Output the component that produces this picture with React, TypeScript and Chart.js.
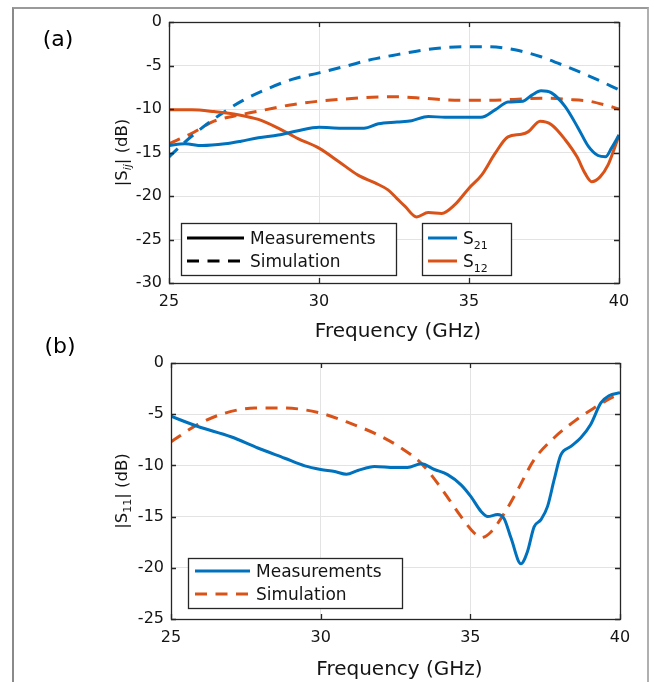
import React, { useEffect, useRef } from 'react';
import { Chart, registerables } from 'chart.js';

Chart.register(...registerables);

// ---------- data: panel (a) |Sij| ----------
const s21MeasFreq = [25, 25.53, 26.1, 26.87, 27.4, 27.98, 28.64, 29.3, 30, 30.75, 31.5, 31.98, 32.6, 33.09, 33.64, 34.2, 34.75, 35.4, 35.87, 36.3, 36.8, 37.1, 37.4, 37.75, 38.2, 38.64, 38.98, 39.3, 39.55, 39.75, 40];
const s21MeasDb = [-14.2, -14.0, -14.2, -14.0, -13.7, -13.3, -13.0, -12.5, -12.1, -12.2, -12.2, -11.7, -11.5, -11.35, -10.85, -10.96, -10.96, -10.96, -10.1, -9.2, -9.1, -8.4, -7.9, -8.15, -9.7, -12.2, -14.3, -15.35, -15.5, -14.5, -13.0];

const s12MeasFreq = [25, 25.76, 26.5, 27.3, 27.98, 28.64, 29.3, 30, 30.64, 31.3, 31.87, 32.3, 32.6, 32.87, 33.25, 33.64, 34.09, 34.53, 35.0, 35.42, 35.87, 36.3, 36.75, 36.98, 37.37, 37.75, 38.2, 38.6, 38.87, 39.09, 39.37, 39.64, 39.87, 40];
const s12MeasDb = [-10.1, -10.1, -10.3, -10.65, -11.2, -12.2, -13.4, -14.5, -16.0, -17.6, -18.5, -19.3, -20.3, -21.2, -22.4, -21.9, -22.0, -21.0, -19.1, -17.6, -15.1, -13.2, -12.9, -12.6, -11.4, -11.8, -13.5, -15.5, -17.4, -18.35, -17.8, -16.4, -14.3, -13.0];

const s21SimFreq = [25, 25.4, 25.87, 26.64, 27.42, 28.2, 29.1, 30, 30.87, 31.76, 32.6, 33.64, 34.75, 35.6, 36.53, 37.4, 38.3, 39.2, 40];
const s21SimDb = [-15.5, -14.2, -12.8, -10.8, -9.1, -7.8, -6.6, -5.85, -5.1, -4.3, -3.75, -3.15, -2.85, -2.85, -3.2, -4.0, -5.2, -6.5, -7.8];

const s12SimFreq = [25, 25.76, 26.5, 27.4, 28.2, 29.1, 30, 30.87, 31.76, 32.6, 33.6, 34.75, 35.6, 36.5, 37.4, 38.3, 39, 39.6, 40];
const s12SimDb = [-14.0, -12.8, -11.4, -10.65, -10.1, -9.5, -9.1, -8.85, -8.65, -8.6, -8.8, -9.0, -9.0, -8.9, -8.75, -8.9, -9.1, -9.6, -10.0];

// ---------- data: panel (b) |S11| ----------
const s11MeasFreq = [25, 25.9, 27.0, 27.9, 28.8, 29.47, 30, 30.47, 30.86, 31.24, 31.8, 32.47, 32.9, 33.36, 33.8, 34.24, 34.69, 35.02, 35.36, 35.58, 35.91, 36.13, 36.36, 36.69, 36.91, 37.13, 37.36, 37.58, 37.8, 38.02, 38.36, 38.69, 39.02, 39.36, 39.63, 40];
const s11MeasDb = [-5.2, -6.2, -7.2, -8.3, -9.3, -10.05, -10.4, -10.6, -10.86, -10.5, -10.1, -10.2, -10.2, -9.85, -10.4, -10.9, -11.9, -13.05, -14.5, -15.0, -14.8, -15.2, -17.1, -19.6, -18.4, -16.0, -15.3, -14.0, -11.4, -9.0, -8.15, -7.3, -6.0, -3.9, -3.2, -2.9];

const s11SimFreq = [25, 25.9, 26.8, 27.8, 28.8, 30, 31.0, 31.9, 32.69, 33.36, 34.02, 34.69, 35.13, 35.36, 35.69, 36.13, 36.58, 37.13, 37.8, 38.47, 39.13, 39.58, 40];
const s11SimDb = [-7.7, -6.0, -4.9, -4.4, -4.4, -4.9, -5.9, -7.0, -8.3, -9.8, -12.2, -15.0, -16.6, -17.05, -16.5, -14.7, -12.4, -9.45, -7.3, -5.7, -4.4, -3.6, -3.0];

// ---------- axis ranges / tick steps ----------
const freqRange = [25, 40];
const freqStep = 5;
const aRange = [-30, 0];
const bRange = [-25, 0];
const dbStep = 5;

// ---------- styles ----------
const FAMILY = '"DejaVu Sans", "Liberation Sans", sans-serif';
const AXIS = '#262626';
const TEXT = '#141414';
const GRID = '#e3e3e3';
const BLUE = '#0072BD';
const ORANGE = '#D95319';
const DASH = [12, 8.5];
const LW = 3;

type Seg = { t: string; sub?: boolean; it?: boolean };

function segFont(s: Seg, size: number) {
  const sz = s.sub ? Math.round(size * 0.64) : size;
  return `${s.it ? 'italic ' : ''}${sz}px ${FAMILY}`;
}
function richWidth(ctx: CanvasRenderingContext2D, segs: Seg[], size: number) {
  let w = 0;
  for (const s of segs) {
    ctx.font = segFont(s, size);
    w += ctx.measureText(s.t).width;
  }
  return w;
}
function drawRich(ctx: CanvasRenderingContext2D, segs: Seg[], x: number, baseline: number, size: number, align: 'left' | 'center') {
  let cx = align === 'center' ? x - richWidth(ctx, segs, size) / 2 : x;
  ctx.textAlign = 'left';
  ctx.textBaseline = 'alphabetic';
  for (const s of segs) {
    ctx.font = segFont(s, size);
    ctx.fillText(s.t, cx, baseline + (s.sub ? size * 0.28 : 0));
    cx += ctx.measureText(s.t).width;
  }
}

type LegendRow = { y: number; color: string; dash: number[]; label: Seg[] };
type LegendBox = { x: number; y: number; w: number; h: number; lx1: number; lx2: number; tx: number; rows: LegendRow[] };

type Panel = {
  name: string;
  panelLabel: string;
  labelPos: [number, number];
  yTitle: Seg[];
  yTitleX: number;
  xTitleBaseline: number;
  legends: LegendBox[];
};

function makeDecor(p: Panel) {
  return {
    id: 'decor_' + p.name,
    afterDraw(chart: any) {
      const ctx: CanvasRenderingContext2D = chart.ctx;
      const a = chart.chartArea;
      const xs = chart.scales.x;
      const ys = chart.scales.y;
      ctx.save();
      // axes box
      ctx.strokeStyle = AXIS;
      ctx.lineWidth = 1.3;
      ctx.setLineDash([]);
      ctx.strokeRect(a.left + 0.5, a.top + 0.5, a.right - a.left, a.bottom - a.top);
      // inward ticks on all sides
      const TL = 5;
      ctx.beginPath();
      for (const t of xs.ticks) {
        const px = Math.round(xs.getPixelForValue(t.value)) + 0.5;
        ctx.moveTo(px, a.bottom); ctx.lineTo(px, a.bottom - TL);
        ctx.moveTo(px, a.top); ctx.lineTo(px, a.top + TL);
      }
      for (const t of ys.ticks) {
        const py = Math.round(ys.getPixelForValue(t.value)) + 0.5;
        ctx.moveTo(a.left, py); ctx.lineTo(a.left + TL, py);
        ctx.moveTo(a.right, py); ctx.lineTo(a.right - TL, py);
      }
      ctx.stroke();

      // legends
      for (const lg of p.legends) {
        ctx.fillStyle = '#ffffff';
        ctx.fillRect(lg.x, lg.y, lg.w, lg.h);
        ctx.strokeStyle = AXIS;
        ctx.lineWidth = 1.3;
        ctx.setLineDash([]);
        ctx.strokeRect(lg.x + 0.5, lg.y + 0.5, lg.w, lg.h);
        for (const r of lg.rows) {
          ctx.strokeStyle = r.color;
          ctx.lineWidth = LW;
          ctx.setLineDash(r.dash);
          ctx.beginPath();
          ctx.moveTo(lg.lx1, r.y);
          ctx.lineTo(lg.lx2, r.y);
          ctx.stroke();
          ctx.setLineDash([]);
          ctx.fillStyle = TEXT;
          drawRich(ctx, r.label, lg.tx, r.y + 6, 17, 'left');
        }
      }

      ctx.fillStyle = TEXT;
      // x title
      drawRich(ctx, [{ t: 'Frequency (GHz)' }], (a.left + a.right) / 2 + 4, p.xTitleBaseline, 20, 'center');
      // y title (rotated)
      ctx.save();
      ctx.translate(p.yTitleX + 4.5, (a.top + a.bottom) / 2);
      ctx.rotate(-Math.PI / 2);
      drawRich(ctx, p.yTitle, 0, 0, 16.5, 'center');
      ctx.restore();
      // panel label
      ctx.fillStyle = '#000000';
      drawRich(ctx, [{ t: p.panelLabel }], p.labelPos[0], p.labelPos[1], 22, 'center');
      ctx.restore();
    },
  };
}

function pts(f: number[], v: number[]) {
  return f.map((x, i) => ({ x, y: v[i] }));
}

function ds(label: string, f: number[], v: number[], color: string, dashed: boolean) {
  return {
    label,
    data: pts(f, v),
    borderColor: color,
    backgroundColor: color,
    borderWidth: LW,
    borderDash: dashed ? DASH : [],
    pointRadius: 0,
    fill: false,
    cubicInterpolationMode: 'monotone',
    borderCapStyle: 'butt',
    borderJoinStyle: 'round',
  };
}

type Layout = { padTop: number; padBottom: number; padRight: number; yWidth: number; xHeight: number; yRange: number[] };

function buildConfig(datasets: any[], lay: Layout, panel: Panel): any {
  const tickFont = { family: FAMILY, size: 16 };
  return {
    type: 'line',
    data: { datasets },
    options: {
      responsive: false,
      animation: false,
      events: [],
      layout: { padding: { left: 0, right: lay.padRight, top: lay.padTop, bottom: lay.padBottom } },
      plugins: { legend: { display: false }, tooltip: { enabled: false }, title: { display: false } },
      scales: {
        x: {
          type: 'linear',
          min: freqRange[0],
          max: freqRange[1],
          afterFit: (s: any) => { s.height = lay.xHeight; },
          ticks: { stepSize: freqStep, font: tickFont, color: TEXT, padding: 9, maxRotation: 0 },
          grid: { color: GRID, lineWidth: 1, drawTicks: false },
          border: { display: false },
        },
        y: {
          type: 'linear',
          min: lay.yRange[0],
          max: lay.yRange[1],
          afterFit: (s: any) => { s.width = lay.yWidth; },
          ticks: { stepSize: dbStep, font: tickFont, color: TEXT, padding: 7 },
          grid: { color: GRID, lineWidth: 1, drawTicks: false },
          border: { display: false },
        },
      },
    },
    plugins: [makeDecor(panel)],
  };
}

const panelA: Panel = {
  name: 'a',
  panelLabel: '(a)',
  labelPos: [58, 46],
  yTitle: [{ t: '|S' }, { t: 'ij', sub: true, it: true }, { t: '| (dB)' }],
  yTitleX: 122,
  xTitleBaseline: 337,
  legends: [
    {
      x: 181, y: 223, w: 215, h: 52, lx1: 187, lx2: 244, tx: 250,
      rows: [
        { y: 238, color: '#000000', dash: [], label: [{ t: 'Measurements' }] },
        { y: 261, color: '#000000', dash: DASH, label: [{ t: 'Simulation' }] },
      ],
    },
    {
      x: 422, y: 223, w: 89, h: 52, lx1: 428, lx2: 457, tx: 463,
      rows: [
        { y: 238, color: BLUE, dash: [], label: [{ t: 'S' }, { t: '21', sub: true }] },
        { y: 261, color: ORANGE, dash: [], label: [{ t: 'S' }, { t: '12', sub: true }] },
      ],
    },
  ],
};

const panelB: Panel = {
  name: 'b',
  panelLabel: '(b)',
  labelPos: [60, 353],
  yTitle: [{ t: '|S' }, { t: '11', sub: true }, { t: '| (dB)' }],
  yTitleX: 122,
  xTitleBaseline: 675,
  legends: [
    {
      x: 188, y: 558, w: 214, h: 50, lx1: 195, lx2: 250, tx: 256,
      rows: [
        { y: 571, color: BLUE, dash: [], label: [{ t: 'Measurements' }] },
        { y: 594, color: ORANGE, dash: DASH, label: [{ t: 'Simulation' }] },
      ],
    },
  ],
};

export default function App() {
  const refA = useRef<HTMLCanvasElement>(null);
  const refB = useRef<HTMLCanvasElement>(null);

  useEffect(() => {
    const dsA = [
      ds('S21 measured', s21MeasFreq, s21MeasDb, BLUE, false),
      ds('S12 measured', s12MeasFreq, s12MeasDb, ORANGE, false),
      ds('S21 simulated', s21SimFreq, s21SimDb, BLUE, true),
      ds('S12 simulated', s12SimFreq, s12SimDb, ORANGE, true),
    ];
    const dsB = [
      ds('Measurements', s11MeasFreq, s11MeasDb, BLUE, false),
      ds('Simulation', s11SimFreq, s11SimDb, ORANGE, true),
    ];
    const a = new Chart(refA.current as HTMLCanvasElement, buildConfig(dsA,
      { padTop: 22, padBottom: 339, padRight: 35, yWidth: 169, xHeight: 60, yRange: aRange }, panelA));
    const b = new Chart(refB.current as HTMLCanvasElement, buildConfig(dsB,
      { padTop: 363, padBottom: 0, padRight: 34, yWidth: 171, xHeight: 63, yRange: bRange }, panelB));
    return () => {
      a.destroy();
      b.destroy();
    };
  }, []);

  return (
    <div style={{ position: 'absolute', left: 0, top: 0, width: 654, height: 682, background: '#ffffff', overflow: 'hidden' }}>
      <div
        style={{
          position: 'absolute', left: 12, top: 7, width: 637, height: 720, boxSizing: 'border-box',
          borderTop: '2px solid #9a9a9a', borderLeft: '2px solid #8a8a8a', borderRight: '2px solid #b0b0b0',
        }}
      />
      <canvas ref={refA} width={654} height={682} style={{ position: 'absolute', left: 0, top: 0 }} />
      <canvas ref={refB} width={654} height={682} style={{ position: 'absolute', left: 0, top: 0 }} />
    </div>
  );
}
